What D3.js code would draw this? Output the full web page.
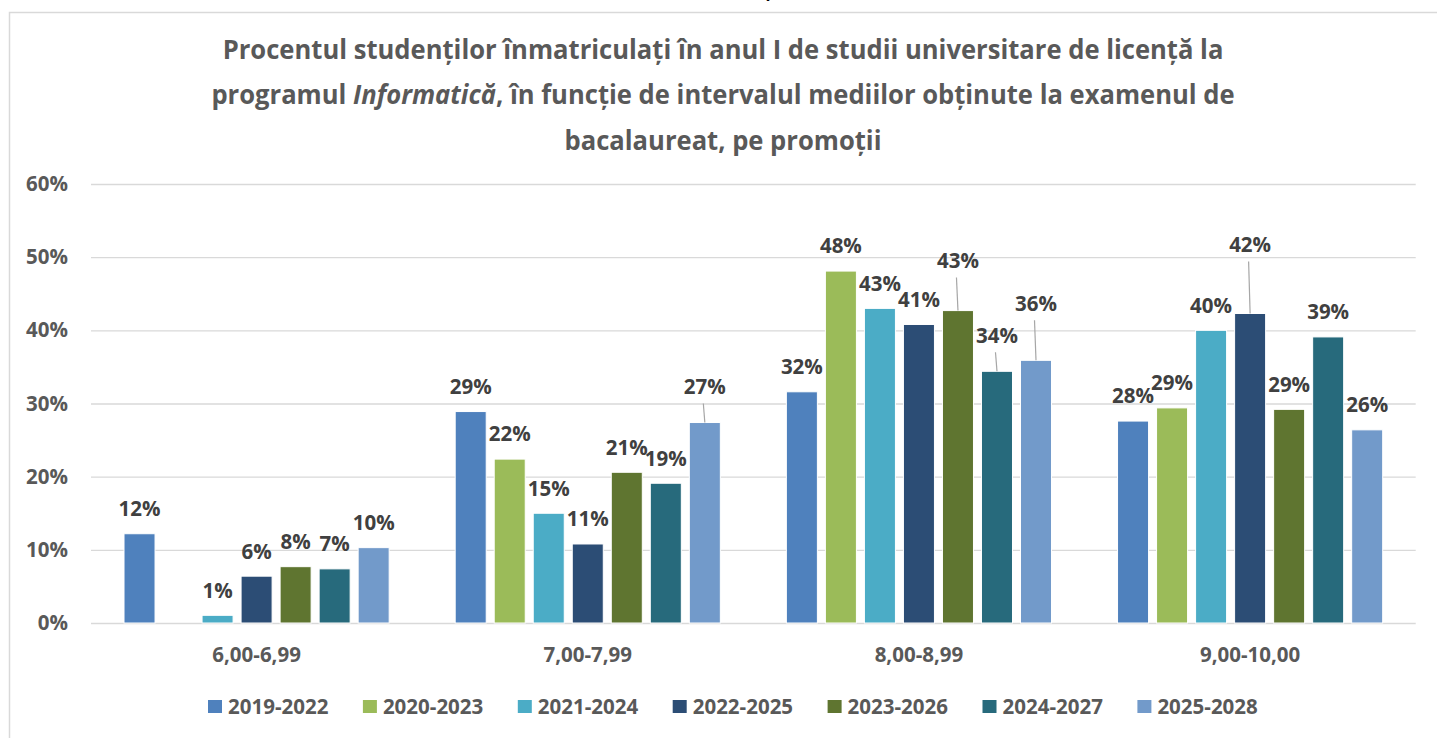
<!DOCTYPE html>
<html>
<head>
<meta charset="utf-8">
<script src="https://cdn.jsdelivr.net/npm/d3@7"></script>
<style>
  body { margin: 0; background: #fff; }
  svg { display: block; }
  text { font-family: "Open Sans", sans-serif; font-weight: 700; }
</style>
</head>
<body>
<div id="chart"></div>
<script>
// data (percent)
const categories = ["6,00-6,99", "7,00-7,99", "8,00-8,99", "9,00-10,00"];
const series = ["2019-2022", "2020-2023", "2021-2024", "2022-2025", "2023-2026", "2024-2027", "2025-2028"];
const v2019 = [12.2, 28.9, 31.6, 27.6];
const v2020 = [null, 22.4, 48.1, 29.4];
const v2021 = [1.05, 15.0, 43.0, 40.0];
const v2022 = [6.4, 10.8, 40.8, 42.3];
const v2023 = [7.7, 20.6, 42.7, 29.2];
const v2024 = [7.4, 19.1, 34.4, 39.1];
const v2025 = [10.3, 27.4, 35.9, 26.4];
const seriesValues = [v2019, v2020, v2021, v2022, v2023, v2024, v2025];
const yTicks = [0, 10, 20, 30, 40, 50, 60];

const titleLines = [
  [["Procentul studenților înmatriculați în anul I de studii universitare de licență la", false]],
  [["programul ", false], ["Informatică", true], [", în funcție de intervalul mediilor obținute la examenul de", false]],
  [["bacalaureat, pe promoții", false]]
];

// labels that were dragged up (with a leader line), px
const labelLift = {
  "7,00-7,99|2025-2028": 11,
  "8,00-8,99|2023-2026": 25,
  "8,00-8,99|2024-2027": 11,
  "8,00-8,99|2025-2028": 32,
  "9,00-10,00|2022-2025": 44
};

const colors = ["#4F81BD", "#9BBB59", "#4BACC6", "#2C4D75", "#5F7530", "#276A7C", "#729ACA"];

const W = 1437, H = 738;
const plot = { left: 91, right: 1415.7, top: 184, bottom: 623 };

const svg = d3.select("#chart").append("svg")
  .attr("width", W).attr("height", H);

// chart frame (only top and left edges are visible)
svg.append("path")
  .attr("d", `M9.5,${H} V12.5 H${W}`)
  .attr("fill", "none")
  .attr("stroke", "#d9d9d9")
  .attr("stroke-width", 1.5);

// bit of text from the page above, cut off
svg.append("text")
  .attr("x", 766).attr("y", -2)
  .attr("font-size", 22)
  .attr("fill", "#000")
  .text(",");

// title
const title = svg.append("g").attr("fill", "#595959");
const titleBase = [59, 104, 150];
const lines = title.selectAll("text")
  .data(titleLines)
  .join("text")
  .attr("text-anchor", "middle")
  .attr("font-size", 26.5)
  .attr("transform", (d, i) => `translate(723,${titleBase[i]})`);
lines.selectAll("tspan")
  .data(d => d)
  .join("tspan")
  .attr("font-style", d => (d[1] ? "italic" : "normal"))
  .text(d => d[0]);
// squeeze to the narrower original face
const natural = lines.node().getComputedTextLength();
const squeeze = 1001 / natural;
lines.attr("transform", (d, i) => `translate(723,${titleBase[i]}) scale(${squeeze},1)`);

// scales
const x0 = d3.scaleBand().domain(categories).range([plot.left, plot.right]);
const x1 = d3.scaleBand().domain(series).range([0, x0.bandwidth()])
  .paddingInner(0.205).paddingOuter(0.846);
const y = d3.scaleLinear().domain([0, 60]).range([plot.bottom, plot.top]);
const color = d3.scaleOrdinal().domain(series).range(colors);

// Y axis + gridlines
const yAxis = svg.append("g")
  .attr("transform", `translate(${plot.left},0)`)
  .call(d3.axisLeft(y).tickValues(yTicks).tickSize(-(plot.right - plot.left))
    .tickPadding(23).tickFormat(d => d + "%"));
yAxis.select(".domain").remove();
yAxis.selectAll(".tick line").attr("stroke", "#d9d9d9").attr("stroke-width", 1.3);
yAxis.selectAll(".tick text")
  .attr("fill", "#595959")
  .style("font-size", "20.5px")
  .style("font-family", "'Open Sans', sans-serif");

// X axis (category labels)
const xAxis = svg.append("g")
  .attr("transform", `translate(0,${plot.bottom})`)
  .call(d3.axisBottom(x0).tickSize(0).tickPadding(24));
xAxis.select(".domain").remove();
xAxis.selectAll(".tick text")
  .attr("fill", "#595959")
  .style("font-size", "20.5px")
  .style("font-family", "'Open Sans', sans-serif");

// one row per category, one cell per series
const rows = categories.map((c, i) => ({
  cat: c,
  cells: series.map((s, j) => ({ cat: c, ser: s, v: seriesValues[j][i] })).filter(d => d.v != null)
}));

const groups = svg.append("g")
  .selectAll("g")
  .data(rows)
  .join("g")
  .attr("transform", d => `translate(${x0(d.cat)},0)`);

groups.selectAll("rect")
  .data(d => d.cells)
  .join("rect")
  .attr("x", d => x1(d.ser))
  .attr("y", d => y(d.v))
  .attr("width", x1.bandwidth())
  .attr("height", d => y(0) - y(d.v))
  .attr("fill", d => color(d.ser))
  .attr("stroke", "#fff")
  .attr("stroke-width", 1);

// leader lines for moved labels
const lift = d => labelLift[d.cat + "|" + d.ser] || 0;
groups.selectAll("line.leader")
  .data(d => d.cells.filter(c => lift(c) > 0))
  .join("line")
  .attr("class", "leader")
  .attr("x1", d => x1(d.ser) + x1.bandwidth() / 2 - 1.5)
  .attr("x2", d => x1(d.ser) + x1.bandwidth() / 2)
  .attr("y1", d => y(d.v) - 25 - lift(d) + 17)
  .attr("y2", d => y(d.v))
  .attr("stroke", "#a6a6a6")
  .attr("stroke-width", 1.2);

// data labels
groups.selectAll("text.lbl")
  .data(d => d.cells)
  .join("text")
  .attr("class", "lbl")
  .attr("x", d => x1(d.ser) + x1.bandwidth() / 2)
  .attr("y", d => y(d.v) - 25 - lift(d))
  .attr("dy", "0.36em")
  .attr("text-anchor", "middle")
  .attr("font-size", 20.5)
  .attr("fill", "#404040")
  .text(d => Math.round(d.v) + "%");

// legend
const legend = svg.append("g")
  .selectAll("g")
  .data(series)
  .join("g")
  .attr("transform", (d, i) => `translate(${208 + i * 154.9},700)`);
legend.append("rect")
  .attr("width", 14).attr("height", 13)
  .attr("fill", d => color(d));
legend.append("text")
  .attr("x", 20).attr("y", 6.5)
  .attr("dy", "0.36em")
  .attr("font-size", 20.5)
  .attr("fill", "#595959")
  .text(d => d);
</script>
</body>
</html>
